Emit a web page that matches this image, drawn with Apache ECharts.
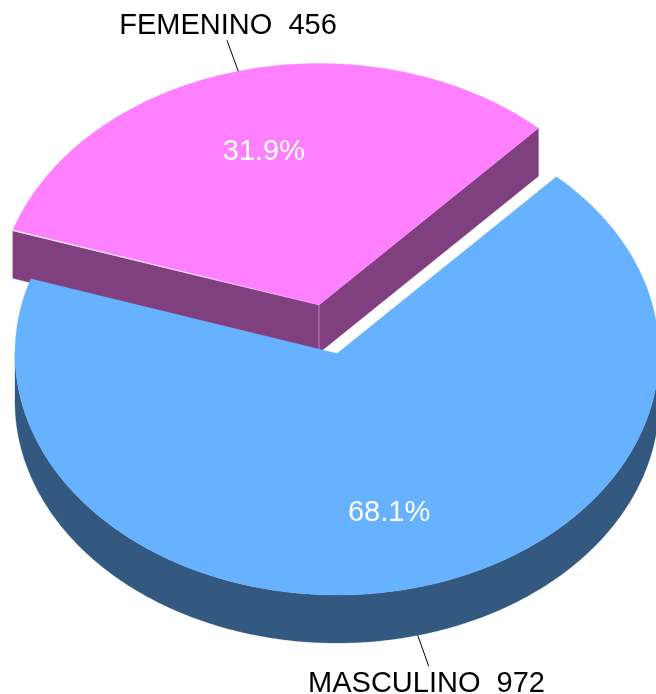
<!DOCTYPE html>
<html>
<head>
<meta charset="utf-8">
<style>html,body{margin:0;padding:0;background:#fff}#c{width:656px;height:694px}</style>
<script src="https://cdn.jsdelivr.net/npm/echarts@6/dist/echarts.min.js"></script>
</head>
<body>
<div id="c"></div>
<script>
const categories = ['FEMENINO', 'MASCULINO'];
const values = [456, 972];
const topColors = ['#FF80FF', '#66B2FF'];
const sideColors = ['#804080', '#335980'];

const layout = {
  rx: 322, ry: 241.5, depth: 48, startAngle: -72,
  centers: [[319, 305], [337, 353.5]],
  labelPos: 0.67,
  labelNudge: [[-1, 3.5], [-2, 2.5]],
  font: '"Liberation Sans", Arial, sans-serif', fontSize: 29,
  nameLabels: [[228, 25.5], [426.5, 683.5]],
  leaderEnds: [[-11.3, -31], [11, 31]]
};

const total = values.reduce((a, b) => a + b, 0);
const slices = [];
let acc = layout.startAngle;
values.forEach((v) => {
  const sweep = v / total * 360;
  slices.push({ from: acc, to: acc + sweep });
  acc += sweep;
});

function pt(c, deg, dz) {
  const r = deg * Math.PI / 180;
  return [c[0] + layout.rx * Math.sin(r), c[1] - layout.ry * Math.cos(r) + (dz || 0)];
}
function arc(c, a, b, dz) {
  const pts = [];
  const n = Math.max(2, Math.ceil(Math.abs(b - a) * 2));
  for (let i = 0; i <= n; i++) pts.push(pt(c, a + (b - a) * i / n, dz));
  return pts;
}

function renderItem(params, api) {
  const i = params.dataIndex;
  const s = slices[i];
  const c = layout.centers[i];
  const d = layout.depth;
  const kids = [];
  const poly = (points, fill) => kids.push({
    type: 'polygon', shape: { points }, style: { fill, stroke: fill, lineWidth: 0.3 }
  });
  const line = (p, q, stroke, w) => kids.push({
    type: 'line', shape: { x1: p[0], y1: p[1], x2: q[0], y2: q[1] }, style: { stroke, lineWidth: w || 1 }
  });
  // outer wall: the part of the rim facing the viewer
  const a = Math.max(s.from, 90), b = Math.min(s.to, 270);
  if (b > a) poly(arc(c, a, b, 0).concat(arc(c, b, a, d)), sideColors[i]);
  // cut faces of the pulled-out slice
  if (i === 0) {
    const cb = [c[0], c[1] + d];
    poly([pt(c, s.from), c, cb, pt(c, s.from, d)], sideColors[i]);
    poly([pt(c, s.to), c, cb, pt(c, s.to, d)], sideColors[i]);
  }
  poly([c].concat(arc(c, s.from, s.to, 0)), topColors[i]);
  if (i === 0) {
    line(c, [c[0], c[1] + d], '#B985B9', 1);
    line(pt(c, s.from), c, new echarts.graphic.LinearGradient(0, 0, 1, 0, [
      { offset: 0, color: 'rgba(255,255,255,1)' },
      { offset: 0.6, color: 'rgba(255,255,255,0.8)' },
      { offset: 1, color: 'rgba(255,255,255,0)' }
    ]), 1.2);
  }
  // leader line and labels
  const mid = (s.from + s.to) / 2;
  const lift = Math.cos(mid * Math.PI / 180) < 0 ? d : 0;
  const lp = pt(c, mid, lift);
  const e = layout.leaderEnds[i];
  line(lp, [lp[0] + e[0], lp[1] + e[1]], '#000', 1);
  const r = mid * Math.PI / 180;
  kids.push({
    type: 'text',
    style: {
      x: c[0] + layout.labelPos * layout.rx * Math.sin(r) + layout.labelNudge[i][0],
      y: c[1] - layout.labelPos * layout.ry * Math.cos(r) + layout.labelNudge[i][1],
      text: (api.value(0) / total * 100).toFixed(1) + '%',
      fill: '#fff', font: layout.fontSize + 'px ' + layout.font,
      align: 'center', verticalAlign: 'middle'
    }
  });
  kids.push({
    type: 'text',
    style: {
      x: layout.nameLabels[i][0], y: layout.nameLabels[i][1],
      text: categories[i] + '  ' + api.value(0),
      fill: '#000', font: layout.fontSize + 'px ' + layout.font,
      align: 'center', verticalAlign: 'middle'
    }
  });
  return { type: 'group', children: kids };
}

const chart = echarts.init(document.getElementById('c'), null, { renderer: 'canvas' });
chart.setOption({
  animation: false,
  backgroundColor: '#fff',
  series: [{
    type: 'custom',
    coordinateSystem: 'none',
    renderItem,
    data: values.map((v, i) => ({ name: categories[i], value: [v] }))
  }]
});
</script>
</body>
</html>
